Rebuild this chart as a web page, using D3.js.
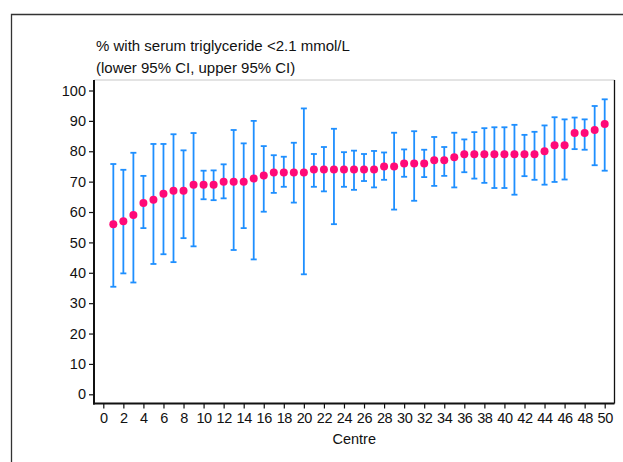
<!DOCTYPE html>
<html>
<head>
<meta charset="utf-8">
<script src="https://cdn.jsdelivr.net/npm/d3@7"></script>
<style>
  html, body { margin: 0; padding: 0; background: #fff; }
  svg { display: block; }
  text { font-family: "Liberation Sans", Arial, sans-serif; fill: #111; }
</style>
</head>
<body>
<svg id="chart" width="623" height="462"></svg>
<script>
// ---- data ----
const centres = d3.range(1, 51);
const pct = [56, 57, 59, 63, 64, 66, 67, 67, 69, 69,
             69, 70, 70, 70, 71, 72, 73, 73, 73, 73,
             74, 74, 74, 74, 74, 74, 74, 75, 75, 76,
             76, 76, 77, 77, 78, 79, 79, 79, 79, 79,
             79, 79, 79, 80, 82, 82, 86, 86, 87, 89];
const lower = [35.4, 39.8, 36.8, 54.7, 42.9, 46.1, 43.5, 51.4, 48.7, 64.2,
               63.9, 64.5, 47.5, 54.7, 44.4, 60.1, 66.3, 68.3, 63.1, 39.5,
               68.3, 66.8, 56.0, 68.3, 67.3, 70.2, 68.1, 70.6, 60.8, 71.6,
               63.7, 71.5, 68.6, 71.9, 68.1, 73.1, 71.0, 69.6, 67.9, 67.9,
               65.7, 71.8, 70.6, 69.0, 69.9, 70.7, 80.7, 80.5, 75.4, 73.6];
const upper = [75.8, 73.9, 79.5, 71.9, 82.4, 82.4, 85.6, 80.3, 86.0, 73.6,
               73.7, 75.7, 87.0, 82.6, 90.0, 81.7, 78.7, 78.2, 82.8, 94.1,
               79.1, 81.4, 87.4, 79.7, 80.2, 79.1, 80.1, 79.6, 86.1, 80.6,
               86.6, 80.5, 84.7, 81.4, 86.1, 83.9, 86.3, 87.6, 87.9, 87.9,
               88.7, 85.4, 86.4, 88.5, 91.2, 90.5, 91.1, 90.5, 94.9, 97.1];
const yTicks = d3.range(0, 101, 10);
const xTicks = d3.range(0, 51, 2);
const titleLines = ["% with serum triglyceride <2.1 mmol/L", "(lower 95% CI, upper 95% CI)"];
const xLabel = "Centre";

const data = centres.map((c, i) => ({c, v: pct[i], lo: lower[i], hi: upper[i]}));

// ---- layout ----
const svg = d3.select("#chart");
const box = {left: 94, right: 614.5, top: 80, bottom: 403.5};
const x = d3.scaleLinear().domain([0, 50]).range([103.3, 604.7]);
const y = d3.scaleLinear().domain([0, 100]).range([394.3, 90.5]);

// outer frame (top and left)
svg.append("path")
  .attr("d", `M11.5,462 V14.5 H623`)
  .attr("fill", "none").attr("stroke", "#333").attr("stroke-width", 1.3);

// plot box: top (light) and right (dark)
svg.append("line").attr("x1", box.left).attr("x2", box.right).attr("y1", box.top).attr("y2", box.top)
  .attr("stroke", "#c8c8c8").attr("stroke-width", 1);
svg.append("line").attr("x1", box.right).attr("x2", box.right).attr("y1", box.top).attr("y2", box.bottom)
  .attr("stroke", "#111").attr("stroke-width", 1.3);

// title
svg.append("g").selectAll("text").data(titleLines).join("text")
  .attr("x", 96).attr("y", (d, i) => 51 + i * 21.5)
  .attr("font-size", "15px").text(d => d);

// y axis
const yAxis = svg.append("g").attr("transform", `translate(${box.left},0)`)
  .call(d3.axisLeft(y).tickValues(yTicks).tickSize(5).tickSizeOuter(0).tickPadding(3));
yAxis.select(".domain").remove();
yAxis.append("line").attr("x1", 0).attr("x2", 0).attr("y1", box.top).attr("y2", box.bottom + 1)
  .attr("stroke", "#111").attr("stroke-width", 2);
yAxis.selectAll(".tick line").attr("stroke", "#111").attr("stroke-width", 1.2);
yAxis.selectAll(".tick text").attr("font-size", "14.5px")
  .attr("font-family", "Liberation Sans, Arial, sans-serif").attr("fill", "#111");

// x axis
const xAxis = svg.append("g").attr("transform", `translate(0,${box.bottom})`)
  .call(d3.axisBottom(x).tickValues(xTicks).tickSize(5).tickSizeOuter(0).tickPadding(4));
xAxis.select(".domain").remove();
xAxis.append("line").attr("x1", box.left - 1).attr("x2", box.right).attr("y1", 0).attr("y2", 0)
  .attr("stroke", "#111").attr("stroke-width", 2);
xAxis.selectAll(".tick line").attr("stroke", "#111").attr("stroke-width", 1.2);
xAxis.selectAll(".tick text").attr("font-size", "14.5px")
  .attr("font-family", "Liberation Sans, Arial, sans-serif").attr("fill", "#111")
  .attr("letter-spacing", "-0.4px");

svg.append("text").attr("x", (box.left + box.right) / 2).attr("y", 444)
  .attr("text-anchor", "middle").attr("font-size", "14.5px").text(xLabel);

// error bars
const blue = "#1e8fff";
const eb = svg.append("g").attr("stroke", blue).attr("stroke-width", 1.8).attr("fill", "none");
eb.selectAll("line.v").data(data).join("line").attr("class", "v")
  .attr("x1", d => x(d.c)).attr("x2", d => x(d.c))
  .attr("y1", d => y(d.lo)).attr("y2", d => y(d.hi));
eb.selectAll("line.t").data(data).join("line").attr("class", "t")
  .attr("x1", d => x(d.c) - 3).attr("x2", d => x(d.c) + 3)
  .attr("y1", d => y(d.hi)).attr("y2", d => y(d.hi));
eb.selectAll("line.b").data(data).join("line").attr("class", "b")
  .attr("x1", d => x(d.c) - 3).attr("x2", d => x(d.c) + 3)
  .attr("y1", d => y(d.lo)).attr("y2", d => y(d.lo));

// points
svg.append("g").selectAll("circle").data(data).join("circle")
  .attr("cx", d => x(d.c)).attr("cy", d => y(d.v)).attr("r", 4)
  .attr("fill", "#ff0a78");
</script>
</body>
</html>
